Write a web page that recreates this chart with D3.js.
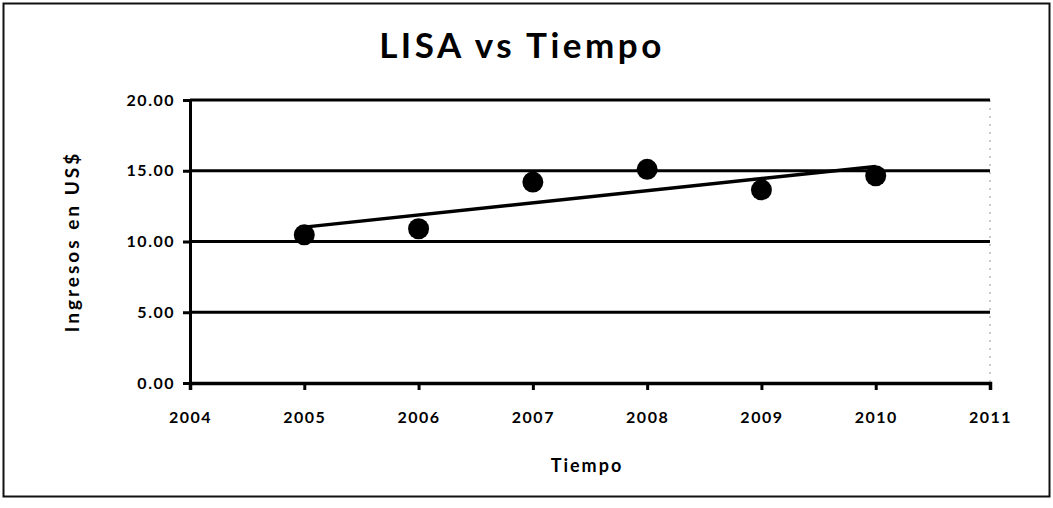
<!DOCTYPE html>
<html><head><meta charset="utf-8">
<script src="https://cdn.jsdelivr.net/npm/d3@7"></script>
<style>body{margin:0;background:#fff}</style>
</head><body>
<svg id="c" width="1053" height="508"></svg>
<script>
const years = [2005, 2006, 2007, 2008, 2009, 2010];
const values = [10.47, 10.9, 14.2, 15.1, 13.65, 14.65];
const yTicks = [0, 5, 10, 15, 20];
const xTicks = [2004, 2005, 2006, 2007, 2008, 2009, 2010, 2011];
const title = "LISA vs Tiempo";
const xLabel = "Tiempo";
const yLabel = "Ingresos en US$";

const svg = d3.select("#c");
const font = "Lato, 'Open Sans', sans-serif";
const m = {l: 190, r: 990, t: 100, b: 383};
const x = d3.scaleLinear().domain([2004, 2011]).range([m.l, m.r]);
const y = d3.scaleLinear().domain([0, 20]).range([m.b, m.t]);

// frame
svg.append("rect").attr("x", 3.5).attr("y", 3.5).attr("width", 1046).attr("height", 493)
  .attr("fill", "none").attr("stroke", "#111").attr("stroke-width", 2);

// right dotted plot border
svg.append("line").attr("x1", m.r).attr("x2", m.r).attr("y1", m.t).attr("y2", m.b)
  .attr("stroke", "#999").attr("stroke-width", 1).attr("stroke-dasharray", "2,6");

// gridlines
svg.append("g").selectAll("line").data(yTicks.filter(d => d > 0)).join("line")
  .attr("x1", m.l).attr("x2", m.r).attr("y1", d => y(d)).attr("y2", d => y(d))
  .attr("stroke", "#000").attr("stroke-width", 3);

// y axis
const ya = svg.append("g").attr("transform", `translate(${m.l},0)`)
  .call(d3.axisLeft(y).tickValues(yTicks).tickFormat(d3.format(".2f")).tickSize(7).tickPadding(8));
ya.select(".domain").attr("stroke", "#000").attr("stroke-width", 3);
ya.selectAll(".tick line").attr("stroke", "#000").attr("stroke-width", 3);
ya.selectAll("text").attr("font-family", font).attr("font-size", 16).attr("font-weight", 700)
  .attr("letter-spacing", 1.5).attr("fill", "#000");

// x axis
const xa = svg.append("g").attr("transform", `translate(0,${m.b})`)
  .call(d3.axisBottom(x).tickValues(xTicks).tickFormat(d3.format("d")).tickSize(7).tickPadding(22));
xa.select(".domain").attr("stroke", "#000").attr("stroke-width", 3.5);
xa.selectAll(".tick line").attr("stroke", "#000").attr("stroke-width", 3);
xa.selectAll("text").attr("font-family", font).attr("font-size", 16).attr("font-weight", 700)
  .attr("letter-spacing", 1.5).attr("fill", "#000");

// trendline (least squares)
const mx = d3.mean(years), my = d3.mean(values);
const slope = d3.sum(years, (d, i) => (d - mx) * (values[i] - my)) / d3.sum(years, d => (d - mx) ** 2);
const icpt = my - slope * mx;
const x0 = d3.min(years), x1 = d3.max(years);
svg.append("line").attr("x1", x(x0)).attr("y1", y(icpt + slope * x0))
  .attr("x2", x(x1)).attr("y2", y(icpt + slope * x1))
  .attr("stroke", "#000").attr("stroke-width", 3.5);

// points
svg.append("g").selectAll("circle").data(years).join("circle")
  .attr("cx", d => x(d)).attr("cy", (d, i) => y(values[i])).attr("r", 10.5).attr("fill", "#000");

// title
svg.append("text").attr("x", 522).attr("y", 58).attr("text-anchor", "middle")
  .attr("font-family", font).attr("font-size", 35).attr("font-weight", 700)
  .attr("letter-spacing", 3.5).text(title);

// x label
svg.append("text").attr("x", 587).attr("y", 472).attr("text-anchor", "middle")
  .attr("font-family", font).attr("font-size", 18).attr("font-weight", 700)
  .attr("letter-spacing", 2).text(xLabel);

// y label
svg.append("text").attr("transform", `translate(79,${(m.t + m.b) / 2}) rotate(-90)`)
  .attr("text-anchor", "middle").attr("font-family", font).attr("font-size", 19).attr("font-weight", 700)
  .attr("letter-spacing", 3).text(yLabel);
</script>
</body></html>
